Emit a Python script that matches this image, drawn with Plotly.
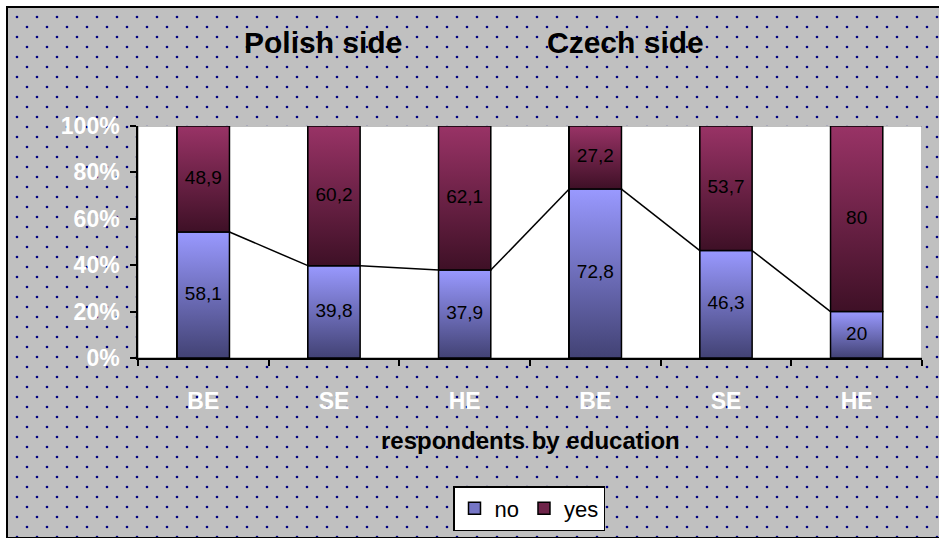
import numpy as np
import plotly.graph_objects as go

categories = ["BE", "SE", "HE", "BE", "SE", "HE"]
no_values = [58.1, 39.8, 37.9, 72.8, 46.3, 20.0]
yes_values = [48.9, 60.2, 62.1, 27.2, 53.7, 80.0]
y_tick_values = [0, 20, 40, 60, 80, 100]
y_tick_labels = ["0%", "20%", "40%", "60%", "80%", "100%"]
group_titles = ["Polish side", "Czech side"]
x_title = "respondents by education"

W, H = 939, 538
ML, MT = 7, 7
PW, PH = W - ML, H - MT

def px_x(p):
    return (p - ML) / PW

def px_y(p):
    return (H - p) / PH

no_arr = np.array(no_values)
yes_arr = np.array(yes_values)
tot = no_arr + yes_arr
pct_no = no_arr / tot * 100
pct_yes = yes_arr / tot * 100
xs = np.arange(len(categories))
bar_w = 0.4

def fmt(v):
    s = ("%.1f" % v).rstrip("0").rstrip(".")
    return s.replace(".", ",")

FONT = "Liberation Sans, Arial, sans-serif"
BLUE = "#7676C6"
MAROON = "#6E2449"
BLUE_GRAD = [[0, "#424274"], [1, "#9999FF"]]
MAROON_GRAD = [[0, "#3E1026"], [1, "#993366"]]

fig = go.Figure()

# background dot pattern (two offset layers -> staggered dots)
for ax in ["x", "x2"]:
    yax = "y" if ax == "x" else "y2"
    fig.add_trace(go.Bar(
        x=[0.5], y=[1], width=[1], xaxis=ax, yaxis=yax, showlegend=False,
        hoverinfo="skip",
        marker=dict(color="#C0C0C0" if ax == "x" else "rgba(0,0,0,0)",
                    line=dict(width=0),
                    pattern=dict(shape=".", fgcolor="#000080", size=20, solidity=0.014,
                                 bgcolor="#C0C0C0" if ax == "x" else "rgba(0,0,0,0)",
                                 fillmode="replace")),
    ))

# stacked bars (solid; give the legend entries)
fig.add_trace(go.Bar(
    x=xs, y=pct_no, width=bar_w, name="no", xaxis="x3", yaxis="y3",
    marker=dict(color=BLUE, line=dict(color="black", width=1.5)),
))
fig.add_trace(go.Bar(
    x=xs, y=pct_yes, width=bar_w, name="yes", xaxis="x3", yaxis="y3",
    marker=dict(color=MAROON, line=dict(color="black", width=1.5)),
))

# gradient faces laid over each bar segment
bases = [np.zeros(len(xs)), pct_no]
heights = [pct_no, pct_yes]
grads = [BLUE_GRAD, MAROON_GRAD]
for base, hgt, grad in zip(bases, heights, grads):
    for i in range(len(xs)):
        b0, b1 = base[i], base[i] + hgt[i]
        x0, x1 = xs[i] - bar_w / 2, xs[i] + bar_w / 2
        fig.add_trace(go.Scatter(
            x=[x0, x1, x1, x0, x0], y=[b0, b0, b1, b1, b0], mode="lines",
            fill="toself", xaxis="x3", yaxis="y3", showlegend=False, hoverinfo="skip",
            line=dict(color="black", width=1.5),
            fillgradient=dict(type="vertical", colorscale=grad, start=b0, stop=b1),
        ))

# series lines connecting tops of "no" segments
lx, ly = [], []
for i in range(len(xs) - 1):
    lx += [xs[i] + bar_w / 2, xs[i + 1] - bar_w / 2, None]
    ly += [pct_no[i], pct_no[i + 1], None]
fig.add_trace(go.Scatter(x=lx, y=ly, mode="lines", xaxis="x3", yaxis="y3",
                         line=dict(color="black", width=1.5), showlegend=False,
                         hoverinfo="skip"))

# value labels centred in each segment
lab_x = list(xs) + list(xs)
lab_y = list(pct_no / 2) + list(pct_no + pct_yes / 2)
lab_t = [fmt(v) for v in no_values] + [fmt(v) for v in yes_values]
fig.add_trace(go.Scatter(x=lab_x, y=lab_y, text=lab_t, mode="text", xaxis="x3", yaxis="y3",
                         textposition="middle center", showlegend=False, hoverinfo="skip",
                         textfont=dict(family=FONT, size=19, color="black")))

hidden = dict(visible=False, fixedrange=True, range=[0, 1], automargin=False)
x_range = [-0.5, len(categories) - 0.5]
y_range = [0, 100]

fig.update_layout(
    width=W, height=H, autosize=False,
    margin=dict(l=ML, t=MT, r=0, b=0, pad=0, autoexpand=False),
    paper_bgcolor="white", plot_bgcolor="rgba(0,0,0,0)",
    barmode="stack", bargap=0,
    font=dict(family=FONT, color="black"),
    xaxis=dict(domain=[0, 1], anchor="y", **hidden),
    yaxis=dict(domain=[0, 1], anchor="x", **hidden),
    xaxis2=dict(domain=[10 / PW, 1], anchor="y2", **hidden),
    yaxis2=dict(domain=[0, 1 - 10 / PH], anchor="x2", **hidden),
    xaxis3=dict(domain=[px_x(138), px_x(922)], anchor="y3", range=x_range,
                tickmode="array", tickvals=xs, ticktext=categories, ticks="",
                tickfont=dict(family=FONT, size=23, color="white", weight="bold"),
                ticklabelstandoff=22, automargin=False,
                showline=True, linecolor="black", linewidth=1.5, showgrid=False,
                zeroline=False, fixedrange=True,
                minor=dict(tickmode="array", tickvals=list(np.arange(len(categories) + 1) - 0.5),
                           ticks="outside", ticklen=6, tickcolor="black", tickwidth=1.5,
                           showgrid=False)),
    yaxis3=dict(domain=[px_y(358), px_y(126)], anchor="x3", range=y_range,
                tickmode="array", tickvals=y_tick_values, ticktext=y_tick_labels,
                ticks="outside", ticklen=6, tickcolor="black", tickwidth=1.5,
                tickfont=dict(family=FONT, size=23, color="white", weight="bold"),
                ticklabelstandoff=6, automargin=False,
                showline=True, linecolor="black", linewidth=1.5, showgrid=False,
                zeroline=False, fixedrange=True),
    legend=dict(orientation="h", x=px_x(529), y=px_y(508.5), xanchor="center", yanchor="middle",
                bgcolor="white", bordercolor="black", borderwidth=1.5,
                font=dict(family=FONT, size=22, color="black"), itemwidth=30,
                traceorder="normal"),
    showlegend=True,
    shapes=[
        dict(type="rect", xref="x3", yref="y3", x0=x_range[0], x1=x_range[1],
             y0=y_range[0], y1=y_range[1], fillcolor="white",
             line=dict(color="#808080", width=1), layer="below"),
        dict(type="rect", xref="paper", yref="paper", x0=0, x1=1.01, y0=0, y1=1,
             line=dict(color="black", width=2), fillcolor="rgba(0,0,0,0)", layer="above"),
    ],
    annotations=[
        dict(text=group_titles[0], x=px_x(322.5), y=px_y(42), xref="paper", yref="paper",
             showarrow=False, xanchor="center", yanchor="middle",
             font=dict(family=FONT, size=30, color="black", weight="bold")),
        dict(text=group_titles[1], x=px_x(625), y=px_y(42), xref="paper", yref="paper",
             showarrow=False, xanchor="center", yanchor="middle",
             font=dict(family=FONT, size=30, color="black", weight="bold")),
        dict(text=x_title, x=px_x(530.5), y=px_y(440), xref="paper", yref="paper",
             showarrow=False, xanchor="center", yanchor="middle",
             font=dict(family=FONT, size=24, color="black", weight="bold")),
    ],
)

fig.write_html(
    "out.html",
    config={"displayModeBar": False},
    post_script=(
        "document.documentElement.style.margin='0';"
        "document.documentElement.style.overflow='hidden';"
        "document.body.style.margin='0';document.body.style.padding='0';"
        "document.body.style.overflow='hidden';"
        "var d=document.getElementById('{plot_id}');"
        "d.style.position='absolute';d.style.left='0px';d.style.top='0px';"
    ),
)
